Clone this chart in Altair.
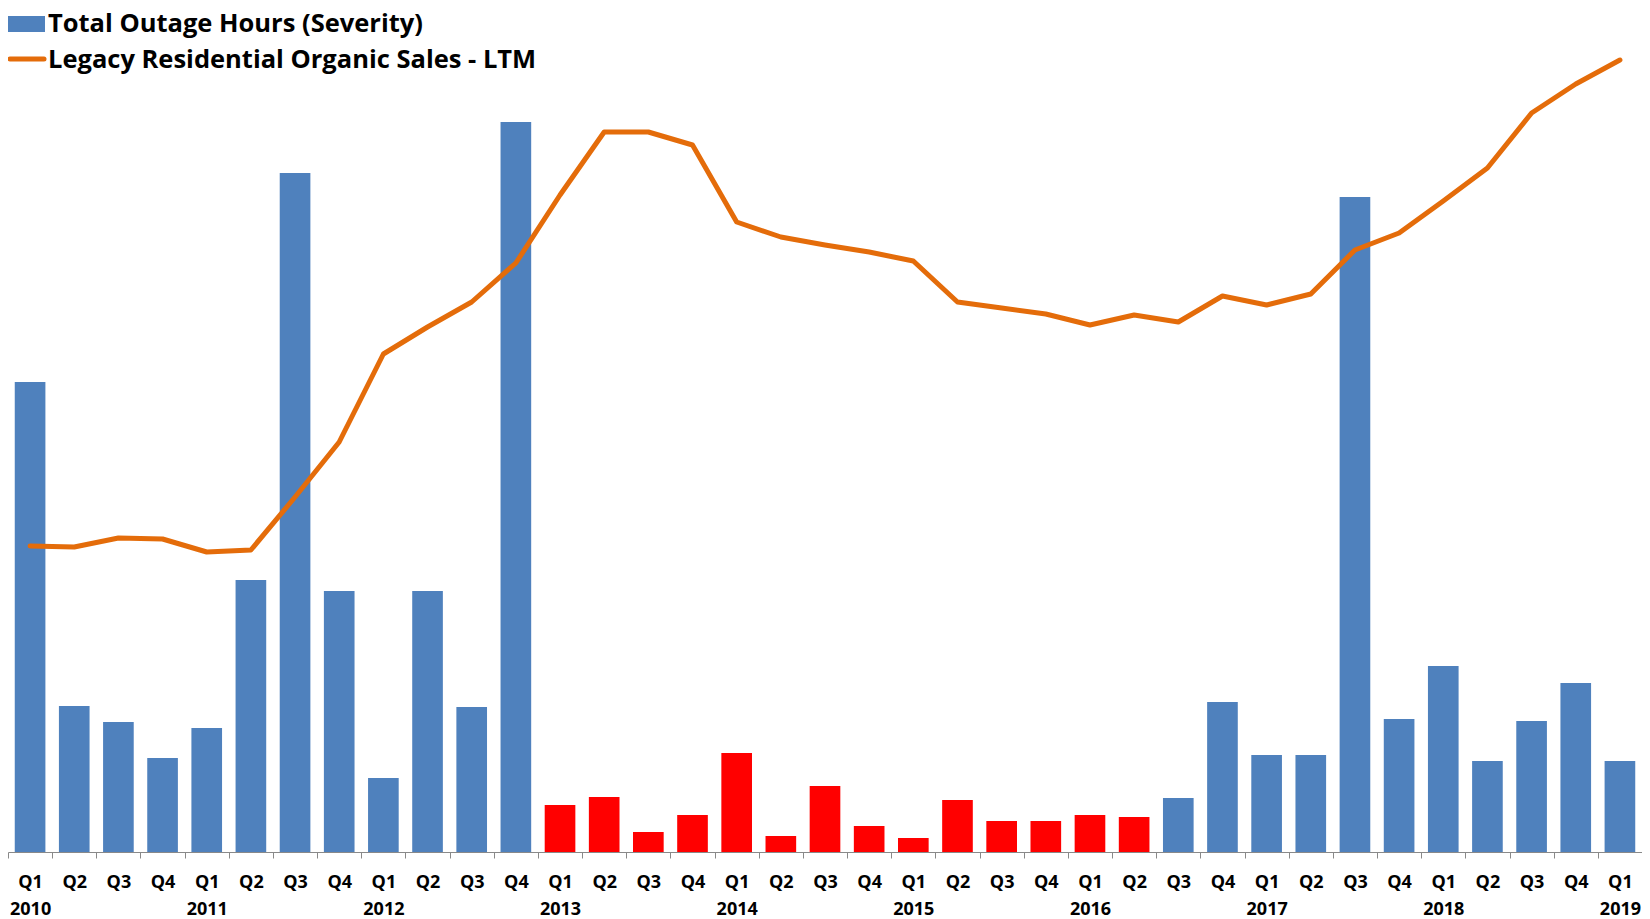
import altair as alt
import pandas as pd

years = ["2010", "2011", "2012", "2013", "2014", "2015", "2016", "2017", "2018", "2019"]
quarters = [f"{y}-Q{q}" for y in years[:-1] for q in range(1, 5)] + ["2019-Q1"]

# Total outage hours (severity) (relative units)
outage_hours = [470, 146, 130, 94, 124, 272, 679, 261, 74, 261, 145, 730,
                47, 55, 20, 37, 99, 16, 66, 26, 14, 52, 31, 31,
                37, 35, 54, 150, 97, 97, 655, 133, 186, 91, 131, 169, 91]

# Legacy residential organic sales - LTM (relative units)
ltm_sales = [306, 305, 314, 313, 300, 302, 355, 410, 498, 525, 550, 589,
             657, 720, 720, 707, 630, 615, 607, 600, 591, 550, 544, 538,
             527, 537, 530, 556, 547, 558, 602, 619, 651, 684, 739, 768, 792]

# bars drawn in red: Q1 2013 .. Q2 2016
bar_group = ["base"] * 12 + ["flag"] * 14 + ["base"] * 11

legend_labels = ["Total Outage Hours (Severity)", "Legacy Residential Organic Sales - LTM"]

BLUE = "#4F81BD"
RED = "#FF0000"
ORANGE = "#E46C0A"
FONT = "Open Sans"

df = pd.DataFrame({"quarter": quarters, "outage": outage_hours,
                   "sales": ltm_sales, "group": bar_group})

label_expr = (
    "indexof('' + datum.value, '-Q') < 0 ? '' : "
    "(substring(datum.value,5,7)=='Q1' ? [substring(datum.value,5,7), substring(datum.value,0,4)] "
    ": substring(datum.value,5,7))"
)

x_enc = alt.X(
    "quarter:N", sort=quarters,
    scale=alt.Scale(paddingInner=0, paddingOuter=0),
    axis=alt.Axis(title=None, labelAngle=0, tickBand="extent", labelExpr=label_expr),
)
y_scale = alt.Scale(domain=[0, 836], nice=False, zero=True)

bars = alt.Chart(df).mark_bar(width=alt.RelativeBandSize(0.694)).encode(
    x=x_enc,
    y=alt.Y("outage:Q", scale=y_scale, axis=None),
    color=alt.Color("group:N", scale=alt.Scale(domain=["base", "flag"], range=[BLUE, RED]), legend=None),
)

line = alt.Chart(df).mark_line(color=ORANGE, strokeWidth=5, strokeCap="round", strokeJoin="round").encode(
    x=x_enc,
    y=alt.Y("sales:Q", scale=y_scale, axis=None),
)

one = pd.DataFrame({"k": [0]})
leg_rect = alt.Chart(one).mark_rect(color=BLUE).encode(
    x=alt.value(0), x2=alt.value(37), y=alt.value(0), y2=alt.value(16))
leg_line = alt.Chart(one).mark_rule(color=ORANGE, strokeWidth=5, strokeCap="round").encode(
    x=alt.value(2), x2=alt.value(36), y=alt.value(43))
leg_t1 = alt.Chart(one).mark_text(align="left", baseline="alphabetic", font=FONT, fontWeight="bold",
                                  fontSize=25.5, color="black").encode(
    x=alt.value(40), y=alt.value(16), text=alt.value(legend_labels[0]))
leg_t2 = alt.Chart(one).mark_text(align="left", baseline="alphabetic", font=FONT, fontWeight="bold",
                                  fontSize=25.5, color="black").encode(
    x=alt.value(40), y=alt.value(52), text=alt.value(legend_labels[1]))

chart = alt.layer(bars, line, leg_rect, leg_line, leg_t1, leg_t2).properties(
    width=1634, height=836,
    padding={"left": 0, "top": 8, "right": 0, "bottom": 66},
    autosize=alt.AutoSizeParams(type="none"),
).configure_view(stroke=None).configure_axis(
    labelFont=FONT, labelFontWeight="bold", labelFontSize=18, labelColor="black",
    domainColor="#898989", tickColor="#898989", tickSize=6, labelPadding=15,
    labelLineHeight=27, grid=False,
)

chart.save("out.html", embed_options={"renderer": "svg", "actions": False})
